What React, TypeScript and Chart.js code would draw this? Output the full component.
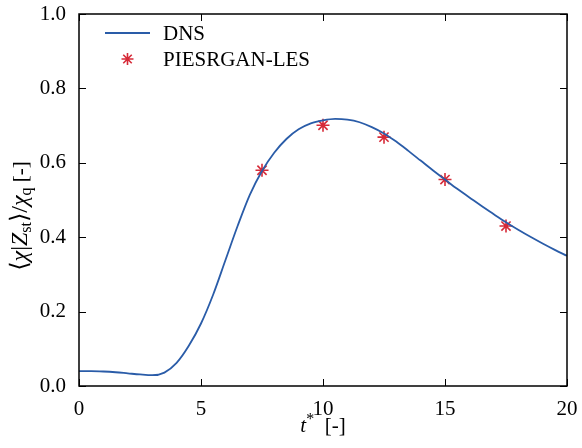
import React, { useEffect, useRef } from "react";
import { Chart, registerables } from "chart.js";

Chart.register(...registerables);

const dnsT = [0, 0.5, 1, 1.5, 2, 2.5, 3, 3.5, 4, 4.5, 5, 5.5, 6, 6.5, 7, 7.5, 8, 8.5, 9, 9.5, 10, 10.5, 11, 11.5, 12, 12.5, 13, 13.5, 14, 14.5, 15, 15.5, 16, 16.5, 17, 17.5, 18, 18.5, 19, 19.5, 20];
const dnsChi = [0.040, 0.040, 0.039, 0.037, 0.034, 0.031, 0.029, 0.036, 0.062, 0.108, 0.168, 0.246, 0.338, 0.430, 0.514, 0.578, 0.627, 0.664, 0.690, 0.706, 0.714, 0.718, 0.716, 0.709, 0.696, 0.679, 0.657, 0.632, 0.606, 0.580, 0.555, 0.530, 0.507, 0.484, 0.462, 0.440, 0.420, 0.401, 0.383, 0.366, 0.350];
const lesT = [7.5, 10, 12.5, 15, 17.5];
const lesChi = [0.580, 0.701, 0.669, 0.555, 0.430];
const xTicks = [0, 5, 10, 15, 20];
const yTicks = [0, 0.2, 0.4, 0.6, 0.8, 1.0];
const seriesNames = ["DNS", "PIESRGAN-LES"];

const FONT = "'Liberation Serif', 'DejaVu Serif', serif";
const BLUE = "#2a5ca8";
const RED = "#d62a38";

const framePlugin = {
  id: "frame",
  afterDatasetsDraw(chart: any) {
    const { ctx, chartArea: a, scales } = chart;
    ctx.save();
    ctx.strokeStyle = "#000";
    ctx.lineWidth = 1.5;
    ctx.strokeRect(a.left, a.top, a.right - a.left, a.bottom - a.top);
    ctx.lineWidth = 1;
    const L = 7;
    ctx.beginPath();
    for (const v of xTicks) {
      const px = Math.round(scales.x.getPixelForValue(v)) + 0.5;
      ctx.moveTo(px, a.bottom);
      ctx.lineTo(px, a.bottom - L);
      ctx.moveTo(px, a.top);
      ctx.lineTo(px, a.top + L);
    }
    for (const v of yTicks) {
      const py = Math.round(scales.y.getPixelForValue(v)) + 0.5;
      ctx.moveTo(a.left, py);
      ctx.lineTo(a.left + L, py);
      ctx.moveTo(a.right, py);
      ctx.lineTo(a.right - L, py);
    }
    ctx.stroke();

    // legend
    ctx.textBaseline = "middle";
    ctx.textAlign = "left";
    ctx.font = `21px ${FONT}`;
    ctx.fillStyle = "#000";
    const lx = a.left + 26;
    const y1 = a.top + 19;
    const y2 = a.top + 45;
    ctx.strokeStyle = BLUE;
    ctx.lineWidth = 1.8;
    ctx.beginPath();
    ctx.moveTo(lx, y1);
    ctx.lineTo(lx + 45, y1);
    ctx.stroke();
    ctx.fillText(seriesNames[0], lx + 58, y1 + 1);
    ctx.strokeStyle = RED;
    ctx.lineWidth = 1.6;
    const cx = lx + 22.5, r = 6;
    ctx.beginPath();
    for (let k = 0; k < 4; k++) {
      const ang = (k * Math.PI) / 4;
      ctx.moveTo(cx - r * Math.cos(ang), y2 - r * Math.sin(ang));
      ctx.lineTo(cx + r * Math.cos(ang), y2 + r * Math.sin(ang));
    }
    ctx.stroke();
    ctx.fillText(seriesNames[1], lx + 58, y2 + 1);

    // x title: t* [-]
    const midX = (a.left + a.right) / 2;
    const ty = 432;
    const parts: [string, string, number][] = [
      ["t", `italic 21px ${FONT}`, 0],
      ["*", `16px ${FONT}`, -8],
      ["  [-]", `21px ${FONT}`, 0],
    ];
    let w = 0;
    for (const p of parts) { ctx.font = p[1]; w += ctx.measureText(p[0]).width; }
    let x = midX - w / 2;
    ctx.textBaseline = "alphabetic";
    for (const p of parts) {
      ctx.font = p[1];
      ctx.fillText(p[0], x, ty + p[2]);
      x += ctx.measureText(p[0]).width;
    }

    // y title
    const yparts: [string, string, number][] = [
      ["\u27E8", `24px ${FONT}`, 0],
      ["\u03C7", `italic 24px ${FONT}`, 0],
      ["|", `24px ${FONT}`, 0],
      ["Z", `italic 24px ${FONT}`, 0],
      ["st", `16px ${FONT}`, 4],
      ["\u27E9", `24px ${FONT}`, 0],
      ["/", `24px ${FONT}`, 0],
      ["\u03C7", `italic 24px ${FONT}`, 0],
      ["q", `16px ${FONT}`, 4],
      [" [-]", `21px ${FONT}`, 0],
    ];
    w = 0;
    for (const p of yparts) { ctx.font = p[1]; w += ctx.measureText(p[0]).width; }
    ctx.translate(27, 216);
    ctx.rotate(-Math.PI / 2);
    x = -w / 2;
    for (const p of yparts) {
      ctx.font = p[1];
      ctx.fillText(p[0], x, p[2]);
      x += ctx.measureText(p[0]).width;
    }
    ctx.restore();
  },
};

export default function App() {
  const ref = useRef<HTMLCanvasElement>(null);
  useEffect(() => {
    if (!ref.current) return;
    const chart = new Chart(ref.current, {
      type: "scatter",
      data: {
        datasets: [
          {
            label: seriesNames[0],
            data: dnsT.map((t, i) => ({ x: t, y: dnsChi[i] })),
            showLine: true,
            borderColor: BLUE,
            borderWidth: 1.8,
            pointRadius: 0,
            cubicInterpolationMode: "monotone",
          },
          {
            label: seriesNames[1],
            data: lesT.map((t, i) => ({ x: t, y: lesChi[i] })),
            pointStyle: "star",
            pointRadius: 6.5,
            borderColor: RED,
            backgroundColor: RED,
            borderWidth: 1.6,
          },
        ],
      },
      options: {
        animation: false,
        responsive: false,
        layout: { padding: { top: 14, right: 15, left: 0, bottom: 0 } },
        plugins: { legend: { display: false }, tooltip: { enabled: false } },
        scales: {
          x: {
            type: "linear",
            min: 0,
            max: 20,
            afterFit: (s: any) => {
              s.height = 62;
              s.paddingLeft = 0; s.paddingRight = 0; s.paddingTop = 0; s.paddingBottom = 0;
            },
            afterBuildTicks: (s: any) => { s.ticks = xTicks.map((v) => ({ value: v })); },
            grid: { display: false, drawTicks: false },
            border: { display: false },
            ticks: { color: "#000", font: { family: FONT, size: 21 }, padding: 11, maxRotation: 0 },
          },
          y: {
            type: "linear",
            min: 0,
            max: 1,
            afterFit: (s: any) => {
              s.width = 79;
              s.paddingLeft = 0; s.paddingRight = 0; s.paddingTop = 0; s.paddingBottom = 0;
            },
            afterBuildTicks: (s: any) => { s.ticks = yTicks.map((v) => ({ value: v })); },
            grid: { display: false, drawTicks: false },
            border: { display: false },
            ticks: {
              color: "#000",
              font: { family: FONT, size: 21 },
              padding: 13,
              callback: (v: any) => Number(v).toFixed(1),
            },
          },
        },
      },
      plugins: [framePlugin],
    } as any);
    return () => chart.destroy();
  }, []);
  return (
    <div style={{ position: "absolute", left: 0, top: 0, width: 582, height: 448 }}>
      <canvas ref={ref} width={582} height={448} style={{ display: "block" }} />
    </div>
  );
}
